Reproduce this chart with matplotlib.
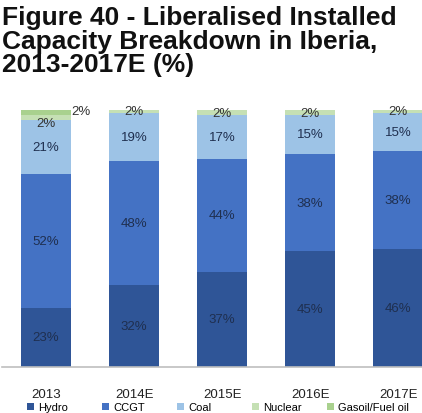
import matplotlib
matplotlib.use("Agg")
import matplotlib.pyplot as plt
import numpy as np

plt.rcParams['font.family'] = ['Liberation Sans', 'DejaVu Sans']

years = ["2013", "2014E", "2015E", "2016E", "2017E"]
series = ["Hydro", "CCGT", "Coal", "Nuclear", "Gasoil/Fuel oil"]
hydro = [23, 32, 37, 45, 46]
ccgt = [52, 48, 44, 38, 38]
coal = [21, 19, 17, 15, 15]
nuclear = [2, 2, 2, 2, 2]
gasoil = [2, 0, 0, 0, 0]
colors = ["#2F5597", "#4472C4", "#9DC3E6", "#C5E0B4", "#A9D18E"]

data = [hydro, ccgt, coal, nuclear, gasoil]

fig = plt.figure(figsize=(4.22, 4.14), dpi=100)
ax = fig.add_axes([2/422, 1-368/414, 420/422, (368-111)/414])

x = np.arange(len(years))
bottom = np.zeros(len(years))
label_color = "#1F2F4F"
fs = 9.5
handles = []
for si, (name, vals, col) in enumerate(zip(series, data, colors)):
    vals = np.array(vals, dtype=float)
    h = ax.bar(x, vals, 0.57, bottom=bottom, color=col, label=name, linewidth=0)
    handles.append(h)
    for i, v in enumerate(vals):
        if v <= 0:
            continue
        cy = bottom[i] + v/2
        if si == 4:
            ax.text(x[i] + 0.40, cy + 0.5, f"{int(v)}%", ha="center", va="center",
                    fontsize=fs, color="#333333")
        elif si == 3 and gasoil[i] > 0:
            ax.text(x[i], cy - 2.0, f"{int(v)}%", ha="center", va="center",
                    fontsize=fs, color="#333333")
        elif si == 3:
            ax.text(x[i], cy - 0.3, f"{int(v)}%", ha="center", va="center",
                    fontsize=fs, color="#333333")
        else:
            ax.text(x[i], cy, f"{int(v)}%", ha="center", va="center",
                    fontsize=fs, color=label_color)
    bottom += vals

ax.set_xlim(-0.5, 4.27)
ax.set_ylim(0, 100)
for s in ["top", "right", "left"]:
    ax.spines[s].set_visible(False)
ax.spines["bottom"].set_color("#BFBFBF")
ax.spines["bottom"].set_linewidth(1.2)
ax.set_yticks([])
ax.set_xticks(x)
ax.set_xticklabels(years, fontsize=9.5, color="#222222")
ax.tick_params(axis="x", length=0, pad=15)

fig.text(2/422, 1-6/414, "Figure 40 - Liberalised Installed\nCapacity Breakdown in Iberia,\n2013-2017E (%)",
         ha="left", va="top", fontsize=19, fontweight="bold", color="#111111", linespacing=0.98)

for k, (h, name) in enumerate(zip(handles, series)):
    leg = fig.legend([h], [name], loc="center left",
                     bbox_to_anchor=((27 + 75*k)/422, 1-408.5/414),
                     frameon=False, fontsize=8, handlelength=0.6, handleheight=0.6,
                     handletextpad=0.4, borderaxespad=0, borderpad=0)

fig.savefig("out.png", dpi=100)
